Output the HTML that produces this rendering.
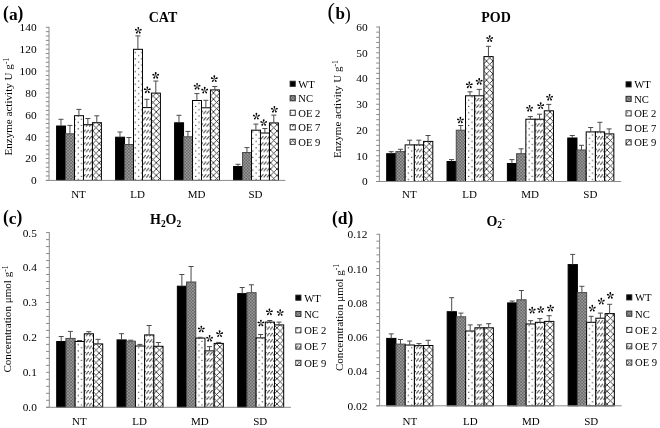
<!DOCTYPE html>
<html><head><meta charset="utf-8"><title>Enzyme activity charts</title>
<style>html,body{margin:0;padding:0;background:#fff;}svg{display:block;filter:blur(0.3px);}</style>
</head><body>
<svg width="660" height="428" viewBox="0 0 660 428" font-family="'Liberation Serif', serif" fill="#000">
<rect width="660" height="428" fill="#fff"/>
<defs>
<pattern id="pNC" patternUnits="userSpaceOnUse" width="3.125" height="3.125">
<rect width="3.125" height="3.125" fill="#686868"/>
<rect x="0" y="0" width="1.5625" height="1.5625" fill="#9a9a9a"/>
<rect x="1.5625" y="1.5625" width="1.5625" height="1.5625" fill="#9a9a9a"/>
</pattern>
<pattern id="pOE2" patternUnits="userSpaceOnUse" width="6.35" height="6.35">
<rect width="6.35" height="6.35" fill="#fff"/>
<rect x="1.5" y="1.15" width="1.1" height="1.1" fill="#222"/>
<rect x="4.65" y="4.35" width="1.1" height="1.1" fill="#333"/>
</pattern>
<pattern id="pOE7" patternUnits="userSpaceOnUse" width="3.175" height="6.35">
<rect width="3.175" height="6.35" fill="#fff"/>
<path d="M0.25 5.95 L2.95 2.75" stroke="#3a3a3a" stroke-width="0.9"/>
</pattern>
<pattern id="pOE9" patternUnits="userSpaceOnUse" width="6.35" height="6.35" x="3.9" y="3.95">
<rect width="6.35" height="6.35" fill="#fff"/>
<path d="M-1 -1 L7.35 7.35 M-1 7.35 L7.35 -1 M-1 5.35 L1 7.35 M5.35 -1 L7.35 1 M-1 1 L1 -1 M5.35 7.35 L7.35 5.35" stroke="#2a2a2a" stroke-width="0.85"/>
</pattern>
<g id="star0"><path id="petal" d="M0 0 L-0.807 -2.432 A0.85 0.85 0 1 1 0.807 -2.432 Z"/>
</g>
<g id="star"><use href="#petal"/><use href="#petal" transform="rotate(72)"/><use href="#petal" transform="rotate(144)"/><use href="#petal" transform="rotate(216)"/><use href="#petal" transform="rotate(288)"/></g>
</defs>
<g><text x="36.6" y="184.3" text-anchor="end" font-size="11.4">0</text>
<text x="36.6" y="162.43" text-anchor="end" font-size="11.4">20</text>
<text x="36.6" y="140.56" text-anchor="end" font-size="11.4">40</text>
<text x="36.6" y="118.69" text-anchor="end" font-size="11.4">60</text>
<text x="36.6" y="96.81" text-anchor="end" font-size="11.4">80</text>
<text x="36.6" y="74.94" text-anchor="end" font-size="11.4">100</text>
<text x="36.6" y="53.07" text-anchor="end" font-size="11.4">120</text>
<text x="36.6" y="31.2" text-anchor="end" font-size="11.4">140</text>
<rect x="56.6" y="126" width="8.96" height="54.4" fill="#000" stroke="#000" stroke-width="1"/>
<rect x="65.56" y="133.8" width="8.96" height="46.6" fill="url(#pNC)" stroke="#4a4a4a" stroke-width="1"/>
<rect x="74.52" y="115.7" width="8.96" height="64.7" fill="url(#pOE2)" stroke="#000" stroke-width="1"/>
<rect x="83.48" y="124.7" width="8.96" height="55.7" fill="url(#pOE7)" stroke="#000" stroke-width="1"/>
<rect x="92.44" y="122.7" width="8.96" height="57.7" fill="url(#pOE9)" stroke="#000" stroke-width="1"/>
<path d="M60.98 126 V119.3 M58.48 119.3 H63.48" stroke="#4a4a4a" stroke-width="1" fill="none"/>
<path d="M69.94 133.8 V125.4 M67.44 125.4 H72.44" stroke="#4a4a4a" stroke-width="1" fill="none"/>
<path d="M78.9 115.7 V109.4 M76.4 109.4 H81.4" stroke="#4a4a4a" stroke-width="1" fill="none"/>
<path d="M87.86 124.7 V118.5 M85.36 118.5 H90.36" stroke="#4a4a4a" stroke-width="1" fill="none"/>
<path d="M96.82 122.7 V115.8 M94.32 115.8 H99.32" stroke="#4a4a4a" stroke-width="1" fill="none"/>
<text x="78.5" y="197.8" text-anchor="middle" font-size="11">NT</text>
<rect x="115.6" y="137.2" width="8.96" height="43.2" fill="#000" stroke="#000" stroke-width="1"/>
<rect x="124.56" y="144.5" width="8.96" height="35.9" fill="url(#pNC)" stroke="#4a4a4a" stroke-width="1"/>
<rect x="133.52" y="49.3" width="8.96" height="131.1" fill="url(#pOE2)" stroke="#000" stroke-width="1"/>
<rect x="142.48" y="107.6" width="8.96" height="72.8" fill="url(#pOE7)" stroke="#000" stroke-width="1"/>
<rect x="151.44" y="93.1" width="8.96" height="87.3" fill="url(#pOE9)" stroke="#000" stroke-width="1"/>
<path d="M119.98 137.2 V132 M117.48 132 H122.48" stroke="#4a4a4a" stroke-width="1" fill="none"/>
<path d="M128.94 144.5 V137.55 M126.44 137.55 H131.44" stroke="#4a4a4a" stroke-width="1" fill="none"/>
<path d="M137.9 49.3 V35.9 M135.4 35.9 H140.4" stroke="#4a4a4a" stroke-width="1" fill="none"/>
<path d="M146.86 107.6 V99.3 M144.36 99.3 H149.36" stroke="#4a4a4a" stroke-width="1" fill="none"/>
<path d="M155.82 93.1 V81.05 M153.32 81.05 H158.32" stroke="#4a4a4a" stroke-width="1" fill="none"/>
<text x="137.5" y="197.8" text-anchor="middle" font-size="11">LD</text>
<rect x="174.6" y="122.8" width="8.96" height="57.6" fill="#000" stroke="#000" stroke-width="1"/>
<rect x="183.56" y="136.8" width="8.96" height="43.6" fill="url(#pNC)" stroke="#4a4a4a" stroke-width="1"/>
<rect x="192.52" y="100.5" width="8.96" height="79.9" fill="url(#pOE2)" stroke="#000" stroke-width="1"/>
<rect x="201.48" y="107.8" width="8.96" height="72.6" fill="url(#pOE7)" stroke="#000" stroke-width="1"/>
<rect x="210.44" y="89.9" width="8.96" height="90.5" fill="url(#pOE9)" stroke="#000" stroke-width="1"/>
<path d="M178.98 122.8 V115.3 M176.48 115.3 H181.48" stroke="#4a4a4a" stroke-width="1" fill="none"/>
<path d="M187.94 136.8 V131.4 M185.44 131.4 H190.44" stroke="#4a4a4a" stroke-width="1" fill="none"/>
<path d="M196.9 100.5 V93.6 M194.4 93.6 H199.4" stroke="#4a4a4a" stroke-width="1" fill="none"/>
<path d="M205.86 107.8 V100.3 M203.36 100.3 H208.36" stroke="#4a4a4a" stroke-width="1" fill="none"/>
<path d="M214.82 89.9 V86.5 M212.32 86.5 H217.32" stroke="#4a4a4a" stroke-width="1" fill="none"/>
<text x="196.5" y="197.8" text-anchor="middle" font-size="11">MD</text>
<rect x="233.6" y="166.5" width="8.96" height="13.9" fill="#000" stroke="#000" stroke-width="1"/>
<rect x="242.56" y="152.5" width="8.96" height="27.9" fill="url(#pNC)" stroke="#4a4a4a" stroke-width="1"/>
<rect x="251.52" y="130.2" width="8.96" height="50.2" fill="url(#pOE2)" stroke="#000" stroke-width="1"/>
<rect x="260.48" y="133" width="8.96" height="47.4" fill="url(#pOE7)" stroke="#000" stroke-width="1"/>
<rect x="269.44" y="122.9" width="8.96" height="57.5" fill="url(#pOE9)" stroke="#000" stroke-width="1"/>
<path d="M237.98 166.5 V164.3 M235.48 164.3 H240.48" stroke="#4a4a4a" stroke-width="1" fill="none"/>
<path d="M246.94 152.5 V147.6 M244.44 147.6 H249.44" stroke="#4a4a4a" stroke-width="1" fill="none"/>
<path d="M255.9 130.2 V124.1 M253.4 124.1 H258.4" stroke="#4a4a4a" stroke-width="1" fill="none"/>
<path d="M264.86 133 V128.5 M262.36 128.5 H267.36" stroke="#4a4a4a" stroke-width="1" fill="none"/>
<path d="M273.82 122.9 V115.1 M271.32 115.1 H276.32" stroke="#4a4a4a" stroke-width="1" fill="none"/>
<text x="255.5" y="197.8" text-anchor="middle" font-size="11">SD</text>
<path d="M49 26.8 V180.4" stroke="#8a8a8a" stroke-width="1" fill="none"/>
<path d="M45.8 180.4 H285.4" stroke="#8a8a8a" stroke-width="1" fill="none"/>
<path d="M45.8 180.4 H49 M45.8 176.03 H49 M45.8 171.65 H49 M45.8 167.28 H49 M45.8 162.9 H49 M45.8 158.53 H49 M45.8 154.15 H49 M45.8 149.78 H49 M45.8 145.41 H49 M45.8 141.03 H49 M45.8 136.66 H49 M45.8 132.28 H49 M45.8 127.91 H49 M45.8 123.53 H49 M45.8 119.16 H49 M45.8 114.79 H49 M45.8 110.41 H49 M45.8 106.04 H49 M45.8 101.66 H49 M45.8 97.29 H49 M45.8 92.91 H49 M45.8 88.54 H49 M45.8 84.17 H49 M45.8 79.79 H49 M45.8 75.42 H49 M45.8 71.04 H49 M45.8 66.67 H49 M45.8 62.29 H49 M45.8 57.92 H49 M45.8 53.55 H49 M45.8 49.17 H49 M45.8 44.8 H49 M45.8 40.42 H49 M45.8 36.05 H49 M45.8 31.67 H49 M45.8 27.3 H49" stroke="#8a8a8a" stroke-width="1" fill="none"/>
<use href="#star" x="138.3" y="30.5"/>
<use href="#star" x="147.3" y="90.1"/>
<use href="#star" x="155.7" y="75.6"/>
<use href="#star" x="197.1" y="86.5"/>
<use href="#star" x="204.7" y="90.4"/>
<use href="#star" x="214.3" y="78.9"/>
<use href="#star" x="256.4" y="116.4"/>
<use href="#star" x="263.7" y="122.7"/>
<use href="#star" x="274.4" y="109.5"/>
<rect x="290.1" y="81.2" width="5.15" height="5.15" fill="#000" stroke="#222" stroke-width="0.9"/>
<text x="298.3" y="87.6" font-size="10.6">WT</text>
<rect x="290.1" y="95.7" width="5.15" height="5.15" fill="url(#pNC)" stroke="#222" stroke-width="0.9"/>
<text x="298.3" y="102.1" font-size="10.6">NC</text>
<rect x="290.1" y="110.2" width="5.15" height="5.15" fill="url(#pOE2)" stroke="#222" stroke-width="0.9"/>
<text x="298.3" y="116.6" font-size="10.6">OE 2</text>
<rect x="290.1" y="124.7" width="5.15" height="5.15" fill="url(#pOE7)" stroke="#222" stroke-width="0.9"/>
<text x="298.3" y="131.1" font-size="10.6">OE 7</text>
<rect x="290.1" y="139.2" width="5.15" height="5.15" fill="url(#pOE9)" stroke="#222" stroke-width="0.9"/>
<text x="298.3" y="145.6" font-size="10.6">OE 9</text></g>
<g><text x="367.6" y="185.4" text-anchor="end" font-size="11.4">0</text>
<text x="367.6" y="159.65" text-anchor="end" font-size="11.4">10</text>
<text x="367.6" y="133.9" text-anchor="end" font-size="11.4">20</text>
<text x="367.6" y="108.15" text-anchor="end" font-size="11.4">30</text>
<text x="367.6" y="82.4" text-anchor="end" font-size="11.4">40</text>
<text x="367.6" y="56.65" text-anchor="end" font-size="11.4">50</text>
<text x="367.6" y="30.9" text-anchor="end" font-size="11.4">60</text>
<rect x="386.7" y="153.7" width="9.22" height="27.8" fill="#000" stroke="#000" stroke-width="1"/>
<rect x="395.92" y="151.6" width="9.22" height="29.9" fill="url(#pNC)" stroke="#4a4a4a" stroke-width="1"/>
<rect x="405.14" y="144.9" width="9.22" height="36.6" fill="url(#pOE2)" stroke="#000" stroke-width="1"/>
<rect x="414.36" y="144.9" width="9.22" height="36.6" fill="url(#pOE7)" stroke="#000" stroke-width="1"/>
<rect x="423.58" y="141.4" width="9.22" height="40.1" fill="url(#pOE9)" stroke="#000" stroke-width="1"/>
<path d="M391.21 153.7 V151.7 M388.71 151.7 H393.71" stroke="#4a4a4a" stroke-width="1" fill="none"/>
<path d="M400.43 151.6 V149.3 M397.93 149.3 H402.93" stroke="#4a4a4a" stroke-width="1" fill="none"/>
<path d="M409.65 144.9 V140.2 M407.15 140.2 H412.15" stroke="#4a4a4a" stroke-width="1" fill="none"/>
<path d="M418.87 144.9 V140.2 M416.37 140.2 H421.37" stroke="#4a4a4a" stroke-width="1" fill="none"/>
<path d="M428.09 141.4 V135.5 M425.59 135.5 H430.59" stroke="#4a4a4a" stroke-width="1" fill="none"/>
<text x="409.35" y="197.8" text-anchor="middle" font-size="11">NT</text>
<rect x="447.05" y="161.5" width="9.22" height="20" fill="#000" stroke="#000" stroke-width="1"/>
<rect x="456.27" y="130.2" width="9.22" height="51.3" fill="url(#pNC)" stroke="#4a4a4a" stroke-width="1"/>
<rect x="465.49" y="95.8" width="9.22" height="85.7" fill="url(#pOE2)" stroke="#000" stroke-width="1"/>
<rect x="474.71" y="95.8" width="9.22" height="85.7" fill="url(#pOE7)" stroke="#000" stroke-width="1"/>
<rect x="483.93" y="56.6" width="9.22" height="124.9" fill="url(#pOE9)" stroke="#000" stroke-width="1"/>
<path d="M451.56 161.5 V159.6 M449.06 159.6 H454.06" stroke="#4a4a4a" stroke-width="1" fill="none"/>
<path d="M460.78 130.2 V125.5 M458.28 125.5 H463.28" stroke="#4a4a4a" stroke-width="1" fill="none"/>
<path d="M470 95.8 V91.8 M467.5 91.8 H472.5" stroke="#4a4a4a" stroke-width="1" fill="none"/>
<path d="M479.22 95.8 V89.4 M476.72 89.4 H481.72" stroke="#4a4a4a" stroke-width="1" fill="none"/>
<path d="M488.44 56.6 V46.3 M485.94 46.3 H490.94" stroke="#4a4a4a" stroke-width="1" fill="none"/>
<text x="469.7" y="197.8" text-anchor="middle" font-size="11">LD</text>
<rect x="507.4" y="163.5" width="9.22" height="18" fill="#000" stroke="#000" stroke-width="1"/>
<rect x="516.62" y="153.7" width="9.22" height="27.8" fill="url(#pNC)" stroke="#4a4a4a" stroke-width="1"/>
<rect x="525.84" y="119.2" width="9.22" height="62.3" fill="url(#pOE2)" stroke="#000" stroke-width="1"/>
<rect x="535.06" y="119.2" width="9.22" height="62.3" fill="url(#pOE7)" stroke="#000" stroke-width="1"/>
<rect x="544.28" y="110.8" width="9.22" height="70.7" fill="url(#pOE9)" stroke="#000" stroke-width="1"/>
<path d="M511.91 163.5 V159.6 M509.41 159.6 H514.41" stroke="#4a4a4a" stroke-width="1" fill="none"/>
<path d="M521.13 153.7 V148.8 M518.63 148.8 H523.63" stroke="#4a4a4a" stroke-width="1" fill="none"/>
<path d="M530.35 119.2 V116.6 M527.85 116.6 H532.85" stroke="#4a4a4a" stroke-width="1" fill="none"/>
<path d="M539.57 119.2 V114.2 M537.07 114.2 H542.07" stroke="#4a4a4a" stroke-width="1" fill="none"/>
<path d="M548.79 110.8 V104.4 M546.29 104.4 H551.29" stroke="#4a4a4a" stroke-width="1" fill="none"/>
<text x="530.05" y="197.8" text-anchor="middle" font-size="11">MD</text>
<rect x="567.75" y="138" width="9.22" height="43.5" fill="#000" stroke="#000" stroke-width="1"/>
<rect x="576.97" y="150" width="9.22" height="31.5" fill="url(#pNC)" stroke="#4a4a4a" stroke-width="1"/>
<rect x="586.19" y="131.9" width="9.22" height="49.6" fill="url(#pOE2)" stroke="#000" stroke-width="1"/>
<rect x="595.41" y="131.9" width="9.22" height="49.6" fill="url(#pOE7)" stroke="#000" stroke-width="1"/>
<rect x="604.63" y="133.9" width="9.22" height="47.6" fill="url(#pOE9)" stroke="#000" stroke-width="1"/>
<path d="M572.26 138 V135.5 M569.76 135.5 H574.76" stroke="#4a4a4a" stroke-width="1" fill="none"/>
<path d="M581.48 150 V145.3 M578.98 145.3 H583.98" stroke="#4a4a4a" stroke-width="1" fill="none"/>
<path d="M590.7 131.9 V127.5 M588.2 127.5 H593.2" stroke="#4a4a4a" stroke-width="1" fill="none"/>
<path d="M599.92 131.9 V122.3 M597.42 122.3 H602.42" stroke="#4a4a4a" stroke-width="1" fill="none"/>
<path d="M609.14 133.9 V128.9 M606.64 128.9 H611.64" stroke="#4a4a4a" stroke-width="1" fill="none"/>
<text x="590.4" y="197.8" text-anchor="middle" font-size="11">SD</text>
<path d="M379.4 26.5 V181.5" stroke="#8a8a8a" stroke-width="1" fill="none"/>
<path d="M376.2 181.5 H621.2" stroke="#8a8a8a" stroke-width="1" fill="none"/>
<path d="M376.2 181.5 H379.4 M376.2 176.35 H379.4 M376.2 171.2 H379.4 M376.2 166.05 H379.4 M376.2 160.9 H379.4 M376.2 155.75 H379.4 M376.2 150.6 H379.4 M376.2 145.45 H379.4 M376.2 140.3 H379.4 M376.2 135.15 H379.4 M376.2 130 H379.4 M376.2 124.85 H379.4 M376.2 119.7 H379.4 M376.2 114.55 H379.4 M376.2 109.4 H379.4 M376.2 104.25 H379.4 M376.2 99.1 H379.4 M376.2 93.95 H379.4 M376.2 88.8 H379.4 M376.2 83.65 H379.4 M376.2 78.5 H379.4 M376.2 73.35 H379.4 M376.2 68.2 H379.4 M376.2 63.05 H379.4 M376.2 57.9 H379.4 M376.2 52.75 H379.4 M376.2 47.6 H379.4 M376.2 42.45 H379.4 M376.2 37.3 H379.4 M376.2 32.15 H379.4 M376.2 27 H379.4" stroke="#8a8a8a" stroke-width="1" fill="none"/>
<use href="#star" x="460.4" y="120.2"/>
<use href="#star" x="469.3" y="85.1"/>
<use href="#star" x="479.2" y="81.6"/>
<use href="#star" x="489.7" y="38.8"/>
<use href="#star" x="529.6" y="108.5"/>
<use href="#star" x="540.7" y="105.9"/>
<use href="#star" x="549.6" y="97.5"/>
<rect x="626" y="81.8" width="5.15" height="5.15" fill="#000" stroke="#222" stroke-width="0.9"/>
<text x="634.2" y="88.2" font-size="10.6">WT</text>
<rect x="626" y="96.3" width="5.15" height="5.15" fill="url(#pNC)" stroke="#222" stroke-width="0.9"/>
<text x="634.2" y="102.7" font-size="10.6">NC</text>
<rect x="626" y="110.8" width="5.15" height="5.15" fill="url(#pOE2)" stroke="#222" stroke-width="0.9"/>
<text x="634.2" y="117.2" font-size="10.6">OE 2</text>
<rect x="626" y="125.3" width="5.15" height="5.15" fill="url(#pOE7)" stroke="#222" stroke-width="0.9"/>
<text x="634.2" y="131.7" font-size="10.6">OE 7</text>
<rect x="626" y="139.8" width="5.15" height="5.15" fill="url(#pOE9)" stroke="#222" stroke-width="0.9"/>
<text x="634.2" y="146.2" font-size="10.6">OE 9</text></g>
<g><text x="36.9" y="411.2" text-anchor="end" font-size="11.4">0.0</text>
<text x="36.9" y="376.26" text-anchor="end" font-size="11.4">0.1</text>
<text x="36.9" y="341.32" text-anchor="end" font-size="11.4">0.2</text>
<text x="36.9" y="306.38" text-anchor="end" font-size="11.4">0.3</text>
<text x="36.9" y="271.44" text-anchor="end" font-size="11.4">0.4</text>
<text x="36.9" y="236.5" text-anchor="end" font-size="11.4">0.5</text>
<rect x="56.7" y="341.5" width="9.2" height="65.8" fill="#000" stroke="#000" stroke-width="1"/>
<rect x="65.9" y="338.4" width="9.2" height="68.9" fill="url(#pNC)" stroke="#4a4a4a" stroke-width="1"/>
<rect x="75.1" y="341.5" width="9.2" height="65.8" fill="url(#pOE2)" stroke="#000" stroke-width="1"/>
<rect x="84.3" y="333.8" width="9.2" height="73.5" fill="url(#pOE7)" stroke="#000" stroke-width="1"/>
<rect x="93.5" y="343.9" width="9.2" height="63.4" fill="url(#pOE9)" stroke="#000" stroke-width="1"/>
<path d="M61.2 341.5 V336.5 M58.7 336.5 H63.7" stroke="#4a4a4a" stroke-width="1" fill="none"/>
<path d="M70.4 338.4 V331.4 M67.9 331.4 H72.9" stroke="#4a4a4a" stroke-width="1" fill="none"/>
<path d="M79.6 341.5 V340.5 M77.1 340.5 H82.1" stroke="#4a4a4a" stroke-width="1" fill="none"/>
<path d="M88.8 333.8 V331.7 M86.3 331.7 H91.3" stroke="#4a4a4a" stroke-width="1" fill="none"/>
<path d="M98 343.9 V339.3 M95.5 339.3 H100.5" stroke="#4a4a4a" stroke-width="1" fill="none"/>
<text x="79.3" y="424.8" text-anchor="middle" font-size="11">NT</text>
<rect x="117.03" y="339.9" width="9.2" height="67.4" fill="#000" stroke="#000" stroke-width="1"/>
<rect x="126.23" y="341.2" width="9.2" height="66.1" fill="url(#pNC)" stroke="#4a4a4a" stroke-width="1"/>
<rect x="135.43" y="346" width="9.2" height="61.3" fill="url(#pOE2)" stroke="#000" stroke-width="1"/>
<rect x="144.63" y="334.9" width="9.2" height="72.4" fill="url(#pOE7)" stroke="#000" stroke-width="1"/>
<rect x="153.83" y="346.3" width="9.2" height="61" fill="url(#pOE9)" stroke="#000" stroke-width="1"/>
<path d="M121.53 339.9 V333.7 M119.03 333.7 H124.03" stroke="#4a4a4a" stroke-width="1" fill="none"/>
<path d="M130.73 341.2 V340.2 M128.23 340.2 H133.23" stroke="#4a4a4a" stroke-width="1" fill="none"/>
<path d="M139.93 346 V344.4 M137.43 344.4 H142.43" stroke="#4a4a4a" stroke-width="1" fill="none"/>
<path d="M149.13 334.9 V325.5 M146.63 325.5 H151.63" stroke="#4a4a4a" stroke-width="1" fill="none"/>
<path d="M158.33 346.3 V342.5 M155.83 342.5 H160.83" stroke="#4a4a4a" stroke-width="1" fill="none"/>
<text x="139.63" y="424.8" text-anchor="middle" font-size="11">LD</text>
<rect x="177.36" y="286.2" width="9.2" height="121.1" fill="#000" stroke="#000" stroke-width="1"/>
<rect x="186.56" y="282" width="9.2" height="125.3" fill="url(#pNC)" stroke="#4a4a4a" stroke-width="1"/>
<rect x="195.76" y="338.1" width="9.2" height="69.2" fill="url(#pOE2)" stroke="#000" stroke-width="1"/>
<rect x="204.96" y="350.9" width="9.2" height="56.4" fill="url(#pOE7)" stroke="#000" stroke-width="1"/>
<rect x="214.16" y="343.4" width="9.2" height="63.9" fill="url(#pOE9)" stroke="#000" stroke-width="1"/>
<path d="M181.86 286.2 V274.5 M179.36 274.5 H184.36" stroke="#4a4a4a" stroke-width="1" fill="none"/>
<path d="M191.06 282 V266.5 M188.56 266.5 H193.56" stroke="#4a4a4a" stroke-width="1" fill="none"/>
<path d="M200.26 338.1 V337.3 M197.76 337.3 H202.76" stroke="#4a4a4a" stroke-width="1" fill="none"/>
<path d="M209.46 350.9 V346.6 M206.96 346.6 H211.96" stroke="#4a4a4a" stroke-width="1" fill="none"/>
<path d="M218.66 343.4 V342.4 M216.16 342.4 H221.16" stroke="#4a4a4a" stroke-width="1" fill="none"/>
<text x="199.96" y="424.8" text-anchor="middle" font-size="11">MD</text>
<rect x="237.69" y="293.6" width="9.2" height="113.7" fill="#000" stroke="#000" stroke-width="1"/>
<rect x="246.89" y="292.7" width="9.2" height="114.6" fill="url(#pNC)" stroke="#4a4a4a" stroke-width="1"/>
<rect x="256.09" y="337.9" width="9.2" height="69.4" fill="url(#pOE2)" stroke="#000" stroke-width="1"/>
<rect x="265.29" y="322.1" width="9.2" height="85.2" fill="url(#pOE7)" stroke="#000" stroke-width="1"/>
<rect x="274.49" y="324.9" width="9.2" height="82.4" fill="url(#pOE9)" stroke="#000" stroke-width="1"/>
<path d="M242.19 293.6 V287.5 M239.69 287.5 H244.69" stroke="#4a4a4a" stroke-width="1" fill="none"/>
<path d="M251.39 292.7 V284.8 M248.89 284.8 H253.89" stroke="#4a4a4a" stroke-width="1" fill="none"/>
<path d="M260.59 337.9 V334.5 M258.09 334.5 H263.09" stroke="#4a4a4a" stroke-width="1" fill="none"/>
<path d="M269.79 322.1 V320.5 M267.29 320.5 H272.29" stroke="#4a4a4a" stroke-width="1" fill="none"/>
<path d="M278.99 324.9 V322.1 M276.49 322.1 H281.49" stroke="#4a4a4a" stroke-width="1" fill="none"/>
<text x="260.29" y="424.8" text-anchor="middle" font-size="11">SD</text>
<path d="M49.3 232.1 V407.3" stroke="#8a8a8a" stroke-width="1" fill="none"/>
<path d="M46.1 407.3 H290.9" stroke="#8a8a8a" stroke-width="1" fill="none"/>
<path d="M46.1 407.3 H49.3 M46.1 400.31 H49.3 M46.1 393.32 H49.3 M46.1 386.34 H49.3 M46.1 379.35 H49.3 M46.1 372.36 H49.3 M46.1 365.37 H49.3 M46.1 358.38 H49.3 M46.1 351.4 H49.3 M46.1 344.41 H49.3 M46.1 337.42 H49.3 M46.1 330.43 H49.3 M46.1 323.44 H49.3 M46.1 316.46 H49.3 M46.1 309.47 H49.3 M46.1 302.48 H49.3 M46.1 295.49 H49.3 M46.1 288.5 H49.3 M46.1 281.52 H49.3 M46.1 274.53 H49.3 M46.1 267.54 H49.3 M46.1 260.55 H49.3 M46.1 253.56 H49.3 M46.1 246.58 H49.3 M46.1 239.59 H49.3 M46.1 232.6 H49.3" stroke="#8a8a8a" stroke-width="1" fill="none"/>
<use href="#star" x="201.3" y="329.2"/>
<use href="#star" x="209.6" y="338.5"/>
<use href="#star" x="219.6" y="333.9"/>
<use href="#star" x="260.9" y="323.2"/>
<use href="#star" x="269.4" y="312.1"/>
<use href="#star" x="280.2" y="312.7"/>
<rect x="295.8" y="295.1" width="5.15" height="5.15" fill="#000" stroke="#222" stroke-width="0.9"/>
<text x="304.2" y="301.5" font-size="10.6">WT</text>
<rect x="295.8" y="311.4" width="5.15" height="5.15" fill="url(#pNC)" stroke="#222" stroke-width="0.9"/>
<text x="304.2" y="317.8" font-size="10.6">NC</text>
<rect x="295.8" y="327.7" width="5.15" height="5.15" fill="url(#pOE2)" stroke="#222" stroke-width="0.9"/>
<text x="304.2" y="334.1" font-size="10.6">OE 2</text>
<rect x="295.8" y="344" width="5.15" height="5.15" fill="url(#pOE7)" stroke="#222" stroke-width="0.9"/>
<text x="304.2" y="350.4" font-size="10.6">OE 7</text>
<rect x="295.8" y="360.3" width="5.15" height="5.15" fill="url(#pOE9)" stroke="#222" stroke-width="0.9"/>
<text x="304.2" y="366.7" font-size="10.6">OE 9</text></g>
<g><text x="367.5" y="409.7" text-anchor="end" font-size="11.4">0.02</text>
<text x="367.5" y="375.4" text-anchor="end" font-size="11.4">0.04</text>
<text x="367.5" y="341.1" text-anchor="end" font-size="11.4">0.06</text>
<text x="367.5" y="306.8" text-anchor="end" font-size="11.4">0.08</text>
<text x="367.5" y="272.5" text-anchor="end" font-size="11.4">0.10</text>
<text x="367.5" y="238.2" text-anchor="end" font-size="11.4">0.12</text>
<rect x="386.7" y="338.4" width="9.24" height="67.4" fill="#000" stroke="#000" stroke-width="1"/>
<rect x="395.94" y="344.1" width="9.24" height="61.7" fill="url(#pNC)" stroke="#4a4a4a" stroke-width="1"/>
<rect x="405.18" y="345" width="9.24" height="60.8" fill="url(#pOE2)" stroke="#000" stroke-width="1"/>
<rect x="414.42" y="345.6" width="9.24" height="60.2" fill="url(#pOE7)" stroke="#000" stroke-width="1"/>
<rect x="423.66" y="345.5" width="9.24" height="60.3" fill="url(#pOE9)" stroke="#000" stroke-width="1"/>
<path d="M391.22 338.4 V333.9 M388.72 333.9 H393.72" stroke="#4a4a4a" stroke-width="1" fill="none"/>
<path d="M400.46 344.1 V339.5 M397.96 339.5 H402.96" stroke="#4a4a4a" stroke-width="1" fill="none"/>
<path d="M409.7 345 V341 M407.2 341 H412.2" stroke="#4a4a4a" stroke-width="1" fill="none"/>
<path d="M418.94 345.6 V343.6 M416.44 343.6 H421.44" stroke="#4a4a4a" stroke-width="1" fill="none"/>
<path d="M428.18 345.5 V340.3 M425.68 340.3 H430.68" stroke="#4a4a4a" stroke-width="1" fill="none"/>
<text x="409.8" y="424.8" text-anchor="middle" font-size="11">NT</text>
<rect x="447.18" y="311.7" width="9.24" height="94.1" fill="#000" stroke="#000" stroke-width="1"/>
<rect x="456.42" y="316.8" width="9.24" height="89" fill="url(#pNC)" stroke="#4a4a4a" stroke-width="1"/>
<rect x="465.66" y="331" width="9.24" height="74.8" fill="url(#pOE2)" stroke="#000" stroke-width="1"/>
<rect x="474.9" y="327.8" width="9.24" height="78" fill="url(#pOE7)" stroke="#000" stroke-width="1"/>
<rect x="484.14" y="327.8" width="9.24" height="78" fill="url(#pOE9)" stroke="#000" stroke-width="1"/>
<path d="M451.7 311.7 V297.7 M449.2 297.7 H454.2" stroke="#4a4a4a" stroke-width="1" fill="none"/>
<path d="M460.94 316.8 V313.1 M458.44 313.1 H463.44" stroke="#4a4a4a" stroke-width="1" fill="none"/>
<path d="M470.18 331 V324.9 M467.68 324.9 H472.68" stroke="#4a4a4a" stroke-width="1" fill="none"/>
<path d="M479.42 327.8 V324.9 M476.92 324.9 H481.92" stroke="#4a4a4a" stroke-width="1" fill="none"/>
<path d="M488.66 327.8 V323.7 M486.16 323.7 H491.16" stroke="#4a4a4a" stroke-width="1" fill="none"/>
<text x="470.28" y="424.8" text-anchor="middle" font-size="11">LD</text>
<rect x="507.66" y="302.9" width="9.24" height="102.9" fill="#000" stroke="#000" stroke-width="1"/>
<rect x="516.9" y="299.8" width="9.24" height="106" fill="url(#pNC)" stroke="#4a4a4a" stroke-width="1"/>
<rect x="526.14" y="324" width="9.24" height="81.8" fill="url(#pOE2)" stroke="#000" stroke-width="1"/>
<rect x="535.38" y="322.3" width="9.24" height="83.5" fill="url(#pOE7)" stroke="#000" stroke-width="1"/>
<rect x="544.62" y="321.4" width="9.24" height="84.4" fill="url(#pOE9)" stroke="#000" stroke-width="1"/>
<path d="M512.18 302.9 V301 M509.68 301 H514.68" stroke="#4a4a4a" stroke-width="1" fill="none"/>
<path d="M521.42 299.8 V290.5 M518.92 290.5 H523.92" stroke="#4a4a4a" stroke-width="1" fill="none"/>
<path d="M530.66 324 V320.7 M528.16 320.7 H533.16" stroke="#4a4a4a" stroke-width="1" fill="none"/>
<path d="M539.9 322.3 V318.6 M537.4 318.6 H542.4" stroke="#4a4a4a" stroke-width="1" fill="none"/>
<path d="M549.14 321.4 V315.7 M546.64 315.7 H551.64" stroke="#4a4a4a" stroke-width="1" fill="none"/>
<text x="530.76" y="424.8" text-anchor="middle" font-size="11">MD</text>
<rect x="568.14" y="264.6" width="9.24" height="141.2" fill="#000" stroke="#000" stroke-width="1"/>
<rect x="577.38" y="292.6" width="9.24" height="113.2" fill="url(#pNC)" stroke="#4a4a4a" stroke-width="1"/>
<rect x="586.62" y="322.3" width="9.24" height="83.5" fill="url(#pOE2)" stroke="#000" stroke-width="1"/>
<rect x="595.86" y="318.2" width="9.24" height="87.6" fill="url(#pOE7)" stroke="#000" stroke-width="1"/>
<rect x="605.1" y="313.6" width="9.24" height="92.2" fill="url(#pOE9)" stroke="#000" stroke-width="1"/>
<path d="M572.66 264.6 V254.4 M570.16 254.4 H575.16" stroke="#4a4a4a" stroke-width="1" fill="none"/>
<path d="M581.9 292.6 V286.3 M579.4 286.3 H584.4" stroke="#4a4a4a" stroke-width="1" fill="none"/>
<path d="M591.14 322.3 V316.3 M588.64 316.3 H593.64" stroke="#4a4a4a" stroke-width="1" fill="none"/>
<path d="M600.38 318.2 V313.1 M597.88 313.1 H602.88" stroke="#4a4a4a" stroke-width="1" fill="none"/>
<path d="M609.62 313.6 V304.3 M607.12 304.3 H612.12" stroke="#4a4a4a" stroke-width="1" fill="none"/>
<text x="591.24" y="424.8" text-anchor="middle" font-size="11">SD</text>
<path d="M379.6 233.8 V405.8" stroke="#8a8a8a" stroke-width="1" fill="none"/>
<path d="M376.4 405.8 H621.7" stroke="#8a8a8a" stroke-width="1" fill="none"/>
<path d="M376.4 405.8 H379.6 M376.4 398.94 H379.6 M376.4 392.08 H379.6 M376.4 385.22 H379.6 M376.4 378.36 H379.6 M376.4 371.5 H379.6 M376.4 364.64 H379.6 M376.4 357.78 H379.6 M376.4 350.92 H379.6 M376.4 344.06 H379.6 M376.4 337.2 H379.6 M376.4 330.34 H379.6 M376.4 323.48 H379.6 M376.4 316.62 H379.6 M376.4 309.76 H379.6 M376.4 302.9 H379.6 M376.4 296.04 H379.6 M376.4 289.18 H379.6 M376.4 282.32 H379.6 M376.4 275.46 H379.6 M376.4 268.6 H379.6 M376.4 261.74 H379.6 M376.4 254.88 H379.6 M376.4 248.02 H379.6 M376.4 241.16 H379.6 M376.4 234.3 H379.6" stroke="#8a8a8a" stroke-width="1" fill="none"/>
<use href="#star" x="532.2" y="310.4"/>
<use href="#star" x="540.7" y="309.7"/>
<use href="#star" x="550.5" y="308.3"/>
<use href="#star" x="592.3" y="308.4"/>
<use href="#star" x="601.3" y="301.4"/>
<use href="#star" x="610.3" y="295.6"/>
<rect x="626.7" y="294.8" width="5.15" height="5.15" fill="#000" stroke="#222" stroke-width="0.9"/>
<text x="635" y="301.2" font-size="10.6">WT</text>
<rect x="626.7" y="311.1" width="5.15" height="5.15" fill="url(#pNC)" stroke="#222" stroke-width="0.9"/>
<text x="635" y="317.5" font-size="10.6">NC</text>
<rect x="626.7" y="327.4" width="5.15" height="5.15" fill="url(#pOE2)" stroke="#222" stroke-width="0.9"/>
<text x="635" y="333.8" font-size="10.6">OE 2</text>
<rect x="626.7" y="343.7" width="5.15" height="5.15" fill="url(#pOE7)" stroke="#222" stroke-width="0.9"/>
<text x="635" y="350.1" font-size="10.6">OE 7</text>
<rect x="626.7" y="360" width="5.15" height="5.15" fill="url(#pOE9)" stroke="#222" stroke-width="0.9"/>
<text x="635" y="366.4" font-size="10.6">OE 9</text></g>
<g font-size="17.4" font-weight="bold"><text x="3.10" y="19.50" transform="translate(0 23.21) scale(1 1.085) translate(0 -23.21)">(</text><text x="8.89" y="19.50">a</text><text x="17.59" y="19.50" transform="translate(0 23.21) scale(1 1.085) translate(0 -23.21)">)</text></g>
<text x="163" y="22" text-anchor="middle" font-size="14" font-weight="bold">CAT</text>
<text x="327.5" y="19.1" font-size="22.2">(</text><text x="335.4" y="19.4" font-size="17" font-weight="bold">b</text><text x="344.8" y="19.7" font-size="18">)</text>
<text x="496" y="21.7" text-anchor="middle" font-size="14" font-weight="bold">POD</text>
<g font-size="17.4" font-weight="bold"><text x="3.00" y="223.80" transform="translate(0 227.51) scale(1 1.085) translate(0 -227.51)">(</text><text x="8.79" y="223.80">c</text><text x="16.52" y="223.80" transform="translate(0 227.51) scale(1 1.085) translate(0 -227.51)">)</text></g>
<text x="150" y="224" font-size="14" font-weight="bold">H<tspan font-size="9.4" dy="2.6">2</tspan><tspan dy="-2.6">O</tspan><tspan font-size="9.4" dy="2.6">2</tspan></text>
<g font-size="17.4" font-weight="bold"><text x="332.00" y="224.10" transform="translate(0 227.81) scale(1 1.085) translate(0 -227.81)">(</text><text x="337.79" y="224.10">d</text><text x="347.47" y="224.10" transform="translate(0 227.81) scale(1 1.085) translate(0 -227.81)">)</text></g>
<text x="486.4" y="225.7" font-size="14" font-weight="bold">O<tspan font-size="9.4" dy="2.5">2</tspan><tspan font-size="9" dy="-6.6">-</tspan></text>
<text transform="translate(12.2 155.6) rotate(-90)" font-size="11.1">Enzyme activity U g<tspan font-size="7.5" dy="-3.4">-1</tspan></text>
<text transform="translate(341.3 158) rotate(-90)" font-size="11.1">Enzyme activity U g<tspan font-size="7.5" dy="-3.4">-1</tspan></text>
<text transform="translate(11.4 372.6) rotate(-90)" font-size="11.1">Concerntration μmol g<tspan font-size="7.5" dy="-3.4">-1</tspan></text>
<text transform="translate(342.6 371.1) rotate(-90)" font-size="11.1">Concerntration μmol g<tspan font-size="7.5" dy="-3.4">-1</tspan></text>
</svg>
</body></html>
